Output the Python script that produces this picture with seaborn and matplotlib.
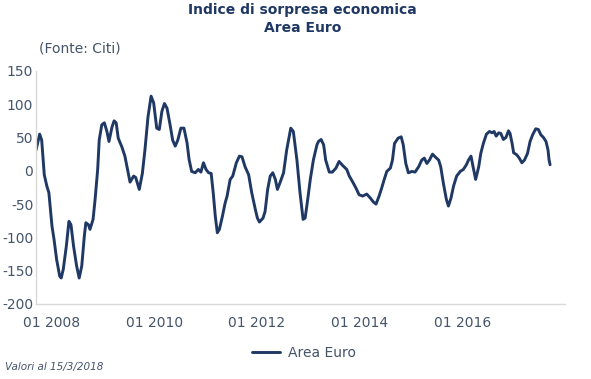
import matplotlib
matplotlib.use("Agg")
import matplotlib.pyplot as plt
import pandas as pd
import seaborn as sns
from matplotlib.ticker import FixedLocator, NullFormatter

# Indice di sorpresa economica Citi - Area Euro
# posizione temporale in anni decimali
anni = [
    2008.20, 2008.27, 2008.31, 2008.36, 2008.41, 2008.45, 2008.51, 2008.55, 2008.60, 2008.66,
    2008.69, 2008.73, 2008.79, 2008.84, 2008.88, 2008.93, 2008.99, 2009.04, 2009.09, 2009.14,
    2009.17, 2009.22, 2009.25, 2009.31, 2009.35, 2009.40, 2009.43, 2009.48, 2009.53, 2009.58,
    2009.62, 2009.68, 2009.72, 2009.76, 2009.80, 2009.87, 2009.93, 2010.03, 2010.10, 2010.14,
    2010.21, 2010.27, 2010.32, 2010.38, 2010.44, 2010.49, 2010.55, 2010.60, 2010.65, 2010.70,
    2010.75, 2010.81, 2010.86, 2010.91, 2010.96, 2011.02, 2011.08, 2011.14, 2011.18, 2011.23,
    2011.30, 2011.36, 2011.41, 2011.46, 2011.51, 2011.56, 2011.61, 2011.65, 2011.69, 2011.73,
    2011.77, 2011.83, 2011.88, 2011.92, 2011.98, 2012.03, 2012.10, 2012.16, 2012.21, 2012.27,
    2012.34, 2012.40, 2012.47, 2012.51, 2012.55, 2012.62, 2012.66, 2012.71, 2012.76, 2012.81,
    2012.86, 2012.90, 2012.95, 2013.02, 2013.08, 2013.16, 2013.21, 2013.28, 2013.34, 2013.40,
    2013.44, 2013.49, 2013.54, 2013.60, 2013.67, 2013.70, 2013.75, 2013.80, 2013.84, 2013.91,
    2013.97, 2014.04, 2014.10, 2014.17, 2014.25, 2014.30, 2014.36, 2014.43, 2014.49, 2014.56,
    2014.64, 2014.71, 2014.77, 2014.82, 2014.88, 2014.93, 2014.98, 2015.03, 2015.10, 2015.14,
    2015.18, 2015.25, 2015.31, 2015.35, 2015.40, 2015.45, 2015.52, 2015.58, 2015.65, 2015.71,
    2015.76, 2015.81, 2015.86, 2015.92, 2015.97, 2016.04, 2016.08, 2016.13, 2016.19, 2016.23,
    2016.28, 2016.33, 2016.39, 2016.46, 2016.52, 2016.58, 2016.62, 2016.67, 2016.71, 2016.76,
    2016.82, 2016.86, 2016.91, 2016.97, 2017.03, 2017.08, 2017.12, 2017.16, 2017.21, 2017.25,
    2017.30, 2017.35, 2017.40, 2017.43, 2017.47, 2017.50, 2017.56, 2017.61, 2017.66, 2017.71,
    2017.77, 2017.82, 2017.87, 2017.93, 2017.98, 2018.03, 2018.08, 2018.13, 2018.17, 2018.19,
    2018.21,
]
valori = [
    31, 55, 46, -6, -23, -33, -83, -103, -133, -158,
    -161, -148, -113, -76, -81, -113, -143, -161, -143, -98,
    -78, -81, -88, -73, -43, 2, 46, 69, 72, 59,
    44, 66, 75, 72, 49, 36, 22, -17, -8, -10,
    -28, -4, 31, 81, 112, 102, 64, 62, 89, 101,
    94, 69, 46, 37, 46, 64, 64, 42, 17, -1,
    -3, 2, -2, 12, 2, -3, -4, -33, -68, -93,
    -88, -68, -49, -38, -13, -8, 12, 22, 21, 6,
    -6, -33, -58, -71, -77, -71, -61, -28, -8, -3,
    -13, -28, -18, -3, 31, 64, 59, 16, -33, -73,
    -71, -43, -13, 16, 39, 44, 47, 39, 16, -2,
    -2, 4, 14, 8, 2, -8, -16, -26, -36, -38,
    -35, -41, -47, -50, -38, -26, -13, -1, 4, 16,
    41, 49, 51, 39, 11, -3, -1, -2, 6, 16,
    19, 11, 16, 25, 21, 16, 6, -18, -43, -53,
    -41, -23, -8, -1, 2, 9, 16, 22, 6, -13,
    6, 26, 41, 55, 59, 57, 59, 52, 57, 56,
    47, 50, 60, 56, 41, 27, 24, 19, 12, 16,
    26, 44, 54, 63, 62, 54, 50, 44, 31, 16,
    9,
]

# tacche annuali e etichette ogni due anni
anni_tacche = [2009, 2010, 2011, 2012, 2013, 2014, 2015, 2016, 2017, 2018]
pos_etichette = [2008.5, 2010.5, 2012.5, 2014.5, 2016.5]
etichette = ["01 2008", "01 2010", "01 2012", "01 2014", "01 2016"]

df = pd.DataFrame({"anno": anni, "Area Euro": valori})

sns.set_style("white")
plt.rcParams['font.family'] = ['DejaVu Sans']
plt.rcParams['axes.unicode_minus'] = False

blu = "#1F3864"
testo = "#44546A"
asse = "#D9D9D9"

fig = plt.figure(figsize=(5.91, 3.79), dpi=100)
ax = fig.add_axes([0.061, 0.198, 0.895, 0.615])

sns.lineplot(data=df, x="anno", y="Area Euro", color=blu, linewidth=2.1,
             ax=ax, label="Area Euro", legend=False)

ax.set_xlim(2008.2, 2018.5)
ax.set_ylim(-200, 150)
ax.set_yticks(range(-200, 151, 50))
ax.set_xlabel("")
ax.set_ylabel("")

ax.xaxis.set_major_locator(FixedLocator(anni_tacche))
ax.xaxis.set_major_formatter(NullFormatter())
ax.xaxis.set_minor_locator(FixedLocator(pos_etichette))
ax.set_xticklabels(etichette, minor=True)
ax.tick_params(axis="x", which="major", length=5, width=1, color=asse, direction="out")
ax.tick_params(axis="x", which="minor", length=0, pad=9, labelsize=10, labelcolor=testo)
ax.tick_params(axis="y", length=0, pad=2, labelsize=10, labelcolor=testo)

for s in ["top", "right"]:
    ax.spines[s].set_visible(False)
for s in ["left", "bottom"]:
    ax.spines[s].set_color(asse)
    ax.spines[s].set_linewidth(1)

fig.text(0.512, 0.973, "Indice di sorpresa economica", ha="center", va="center",
         fontsize=10, fontweight="bold", color=blu)
fig.text(0.512, 0.925, "Area Euro", ha="center", va="center",
         fontsize=10, fontweight="bold", color=blu)
fig.text(0.066, 0.873, "(Fonte: Citi)", ha="left", va="center", fontsize=10, color=testo)
fig.text(0.008, 0.032, "Valori al 15/3/2018", ha="left", va="center",
         fontsize=7.5, style="italic", color=testo)

fig.legend(loc="center", bbox_to_anchor=(0.515, 0.068), frameon=False, fontsize=10,
           handlelength=2.0, handletextpad=0.6, labelcolor=testo)

fig.savefig("out.png", dpi=100)
